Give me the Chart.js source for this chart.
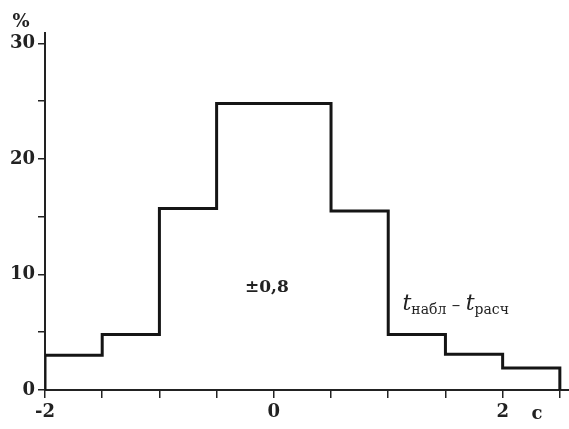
<!DOCTYPE html>
<html lang="ru">
<head>
    <meta charset="UTF-8">
    <title>Гистограмма</title>
    <style>
        html, body { margin: 0; padding: 0; background: #fff; }
        #wrap { width: 569px; height: 429px; }
    </style>
</head>
<body>
    <div id="wrap">
        <canvas id="myChart"></canvas>
    </div>

    <script src="https://cdn.jsdelivr.net/npm/chart.js"></script>

    <script>
        // границы интервалов (с) и частоты (%)
        const binEdges = [-2, -1.5, -1, -0.5, 0.5, 1, 1.5, 2, 2.5];
        const percents = [3, 4.8, 15.7, 24.8, 15.5, 4.8, 3.1, 1.9];
        const xTicks = [-2, -1.5, -1, -0.5, 0, 0.5, 1, 1.5, 2, 2.5];
        const xLabels = [-2, 0, 2];
        const yTicks = [0, 5, 10, 15, 20, 25, 30];
        const yLabels = [0, 10, 20, 30];

        // ступенчатая линия из границ и значений
        const points = [{ x: binEdges[0], y: 0 }];
        percents.forEach((p, i) => {
            points.push({ x: binEdges[i], y: p });
            points.push({ x: binEdges[i + 1], y: p });
        });
        points.push({ x: binEdges[binEdges.length - 1], y: 0 });

        const serif = "'DejaVu Serif', 'Liberation Serif', serif";
        const ink = '#222';

        const textPlugin = {
            id: 'texts',
            afterDraw(chart) {
                const { ctx, scales: { x, y } } = chart;
                ctx.save();
                ctx.fillStyle = ink;
                ctx.textBaseline = 'alphabetic';

                // единицы осей
                ctx.font = 'bold 18px ' + serif;
                ctx.textAlign = 'center';
                ctx.fillText('%', 21, 27);
                ctx.fillText('с', x.getPixelForValue(2.3), 419);

                // ±0,8
                ctx.font = 'bold 17px ' + serif;
                ctx.fillText('±0,8', x.getPixelForValue(-0.06), y.getPixelForValue(8.5));

                // t набл – t расч
                ctx.textAlign = 'left';
                let px = x.getPixelForValue(1.125);
                const base = y.getPixelForValue(6.9);
                const parts = [
                    ['t', 'italic 22px ' + serif, 0],
                    ['набл', '14px ' + serif, 4],
                    [' – ', '17px ' + serif, 0],
                    ['t', 'italic 22px ' + serif, 0],
                    ['расч', '14px ' + serif, 4]
                ];
                parts.forEach(([s, f, dy]) => {
                    ctx.font = f;
                    ctx.fillText(s, px, base + dy);
                    px += ctx.measureText(s).width;
                });
                ctx.restore();
            }
        };

        new Chart(document.getElementById('myChart'), {
            type: 'line',
            data: {
                datasets: [{
                    data: points,
                    borderColor: '#151515',
                    borderWidth: 3,
                    borderJoinStyle: 'miter',
                    pointRadius: 0,
                    fill: false
                }]
            },
            options: {
                responsive: true,
                maintainAspectRatio: false,
                animation: false,
                layout: { padding: { top: 33, right: 0, left: 0, bottom: 0 } },
                plugins: {
                    legend: { display: false },
                    tooltip: { enabled: false }
                },
                scales: {
                    x: {
                        type: 'linear',
                        min: -2,
                        max: 2.58,
                        afterFit(axis) { axis.height = 39; },
                        afterBuildTicks(axis) {
                            axis.ticks = xTicks.map(v => ({ value: v }));
                        },
                        border: { color: ink, width: 2 },
                        grid: { drawOnChartArea: false, drawTicks: true, tickLength: 8, color: ink, lineWidth: 1.5 },
                        ticks: {
                            autoSkip: false,
                            maxRotation: 0,
                            padding: 4,
                            color: ink,
                            font: { family: serif, size: 18, weight: 'bold' },
                            callback: v => xLabels.includes(v) ? (v < 0 ? '-' + Math.abs(v) : String(v)) : ''
                        }
                    },
                    y: {
                        min: 0,
                        max: 30.9,
                        afterFit(axis) { axis.width = 45; },
                        afterBuildTicks(axis) {
                            axis.ticks = yTicks.map(v => ({ value: v }));
                        },
                        border: { color: ink, width: 2 },
                        grid: { drawOnChartArea: false, drawTicks: true, tickLength: 7, color: ink, lineWidth: 1.5 },
                        ticks: {
                            autoSkip: false,
                            padding: 3,
                            color: ink,
                            font: { family: serif, size: 18, weight: 'bold' },
                            callback: v => yLabels.includes(v) ? String(v) : ''
                        }
                    }
                }
            },
            plugins: [textPlugin]
        });
    </script>
</body>
</html>
